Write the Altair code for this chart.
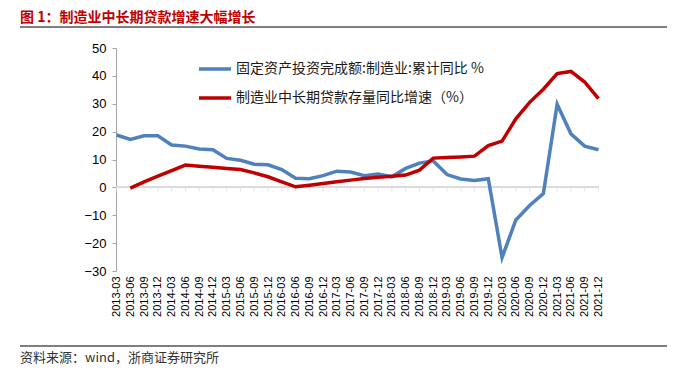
import altair as alt
import pandas as pd

dates = [
    "2013-03", "2013-06", "2013-09", "2013-12",
    "2014-03", "2014-06", "2014-09", "2014-12",
    "2015-03", "2015-06", "2015-09", "2015-12",
    "2016-03", "2016-06", "2016-09", "2016-12",
    "2017-03", "2017-06", "2017-09", "2017-12",
    "2018-03", "2018-06", "2018-09", "2018-12",
    "2019-03", "2019-06", "2019-09", "2019-12",
    "2020-03", "2020-06", "2020-09", "2020-12",
    "2021-03", "2021-06", "2021-09", "2021-12",
]
fai = [
    18.8, 17.2, 18.5, 18.5,
    15.2, 14.8, 13.8, 13.5,
    10.4, 9.7, 8.3, 8.1,
    6.4, 3.3, 3.1, 4.2,
    5.8, 5.5, 4.2, 4.8,
    3.8, 6.8, 8.7, 9.5,
    4.6, 3.0, 2.5, 3.1,
    -25.2, -11.7, -6.5, -2.2,
    29.8, 19.2, 14.8, 13.5,
]
loan = [
    None, -0.3, 2.0, 4.0,
    6.0, 8.0, 7.6, 7.2,
    6.8, 6.4, 5.2, 3.8,
    2.0, 0.2, 0.8, 1.4,
    2.0, 2.6, 3.2, 3.6,
    4.0, 4.4, 6.2, 10.5,
    10.7, 10.9, 11.2, 15.0,
    16.6, 24.6, 30.5, 35.2,
    40.8, 41.6, 37.8, 31.8,
]
series_names = ["固定资产投资完成额:制造业:累计同比 %", "制造业中长期贷款存量同比增速（%）"]
series_colors = ["#4F81BD", "#C00000"]
title_text = "图 1：制造业中长期贷款增速大幅增长"
source_text = "资料来源：wind，浙商证券研究所"
y_ticks = [-30, -20, -10, 0, 10, 20, 30, 40, 50]

rows = []
for d, v in zip(dates, fai):
    rows.append({"date": d, "value": v, "series": series_names[0]})
for d, v in zip(dates, loan):
    if v is not None:
        rows.append({"date": d, "value": v, "series": series_names[1]})
df = pd.DataFrame(rows)
dates_df = pd.DataFrame({"date": dates})

W, H = 483, 223
PL, PT = 116, 48

x_scale = alt.Scale(type="point", padding=0.04, domain=dates)
x_axis = alt.Axis(
    title=None, labelAngle=270, labelFontSize=11, labelFont="Liberation Sans",
    labelColor="#000000", ticks=False, domain=False, labelPadding=5,
    labelAlign="right", labelBaseline="middle", labelOverlap=False,
)
y_scale = alt.Scale(domain=[-30, 50], nice=False, zero=False)
y_axis = alt.Axis(
    title=None, values=y_ticks, grid=False, labelFontSize=13,
    labelFont="Liberation Sans", labelColor="#000000", labelOverlap=False,
    domainColor="#A6A6A6", tickColor="#A6A6A6", tickSize=4, labelPadding=6,
)
x_enc = alt.X("date:O", sort=dates, scale=x_scale, axis=x_axis)
y_enc = alt.Y("value:Q", scale=y_scale, axis=y_axis)

zero_rule = alt.Chart(dates_df).mark_rule(color="#D9D9D9", strokeWidth=1).encode(
    y=alt.YDatum(0, scale=y_scale, axis=y_axis), x=alt.value(0), x2=alt.value(W)
)
zero_ticks = alt.Chart(dates_df).mark_tick(
    color="#D9D9D9", orient="vertical", size=4, thickness=1, yOffset=2
).encode(
    x=x_enc,
    y=alt.YDatum(0, scale=y_scale, axis=y_axis),
)

lines = alt.Chart(df).mark_line(strokeWidth=3.5).encode(
    x=x_enc,
    y=y_enc,
    color=alt.Color(
        "series:N",
        scale=alt.Scale(domain=series_names, range=series_colors),
        sort=series_names,
        legend=alt.Legend(
            title=None, orient="none", legendX=81, legendY=3,
            symbolType="stroke", symbolSize=1024, symbolStrokeWidth=3.5,
            labelFontSize=14, labelFont="Noto Sans CJK SC", labelColor="#1a1a1a",
            rowPadding=4, labelOffset=3, labelLimit=400,
        ),
    ),
    detail="series:N",
)

header = pd.DataFrame({"t": [title_text]})
title_mark = alt.Chart(header).mark_text(
    align="left", baseline="middle", fontSize=14, fontWeight="bold",
    font="Noto Sans CJK SC", color="#C00000",
).encode(text="t:N", x=alt.value(20 - PL), y=alt.value(18 - PT))
footer = pd.DataFrame({"t": [source_text]})
source_mark = alt.Chart(footer).mark_text(
    align="left", baseline="middle", fontSize=13,
    font="Noto Sans CJK SC", color="#333333",
).encode(text="t:N", x=alt.value(20 - PL), y=alt.value(358 - PT))
top_line = alt.Chart(header).mark_rule(color="#7F7F7F", strokeWidth=2).encode(
    x=alt.value(20 - PL), x2=alt.value(667 - PL), y=alt.value(27 - PT)
)
bottom_line = alt.Chart(footer).mark_rule(color="#7F7F7F", strokeWidth=2).encode(
    x=alt.value(20 - PL), x2=alt.value(667 - PL), y=alt.value(346 - PT)
)

chart = alt.layer(
    zero_rule, zero_ticks, lines, title_mark, source_mark, top_line, bottom_line
).properties(
    width=W, height=H,
    autosize=alt.AutoSizeParams(type="none"),
    padding={"left": PL, "top": PT, "right": 675 - PL - W, "bottom": 377 - PT - H},
    background="white",
).configure_view(stroke=None)

chart.save("out.html", embed_options={"renderer": "svg", "actions": False})
